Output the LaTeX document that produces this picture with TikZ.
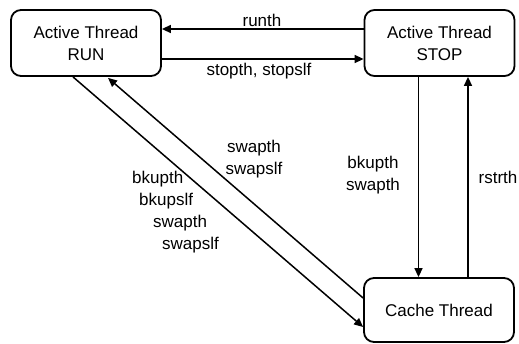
\documentclass[tikz,border=0pt]{standalone}
\usepackage{fontspec}
\setmainfont{Liberation Sans}
\usetikzlibrary{arrows.meta,calc}
\begin{document}
\begin{tikzpicture}[x=1pt,y=-1pt,
  font=\fontsize{17}{22}\selectfont,
  state/.style={draw=black,line width=1.8pt,rounded corners=10pt,align=center,
    minimum width=150pt,minimum height=66pt,inner sep=0pt},
  trans/.style={line width=1.5pt,-{Triangle[length=9pt,width=8pt]}},
  lbl/.style={align=center,inner sep=0pt}]
\useasboundingbox (0,0) rectangle (519,343);
% states
\node[state] (run)   at (86,43)    {Active Thread\\RUN};
\node[state] (stop)  at (439.5,43) {Active Thread\\STOP};
\node[state,minimum height=64pt] (cache) at (439,310) {Cache Thread};
% attachment points on the borders
\coordinate (stopW1) at ($(stop.west)+(0,-14)$);
\coordinate (runE1)  at (run.east |- stopW1);
\coordinate (runE2)  at ($(run.east)+(0,16)$);
\coordinate (stopW2) at (stop.west |- runE2);
\coordinate (runS1)  at ($(run.south)+(-13,0)$);
\coordinate (runS2)  at ($(run.south)+(22,1)$);
\coordinate (cacheW1) at ($(cache.west)+(0,17)$);
\coordinate (cacheW2) at ($(cache.west)+(0,-12)$);
\coordinate (stopS1) at ($(stop.south)+(-21,0)$);
\coordinate (cacheN1) at (cache.north -| stopS1);
\coordinate (cacheN2) at ($(cache.north)+(29,0)$);
\coordinate (stopS2) at (stop.south -| cacheN2);
% transitions
\draw[trans] (stopW1) -- (runE1);
\draw[trans] (runE2) -- (stopW2);
\draw[trans] (runS1) -- (cacheW1);
\draw[trans] (cacheW2) -- (runS2);
\draw[trans] (stopS1) -- (cacheN1);
\draw[trans] (cacheN2) -- (stopS2);
% labels
\node[lbl] (lrunth) at (262,20) {runth};
\node[lbl] (lstop) at (259,71) {stopth, stopslf};
\node[lbl] (lswap) at (254,159) {swapth\\swapslf};
\node[lbl,align=left,anchor=north west] (lbkup) at (132,171)
  {bkupth\\\hspace*{7pt}bkupslf\\\hspace*{21pt}swapth\\\hspace*{30pt}swapslf};
\node[lbl] (lbkup2) at (373,175) {bkupth\\swapth};
\node[lbl] (lrstr) at (498,177) {rstrth};
\end{tikzpicture}
\end{document}
